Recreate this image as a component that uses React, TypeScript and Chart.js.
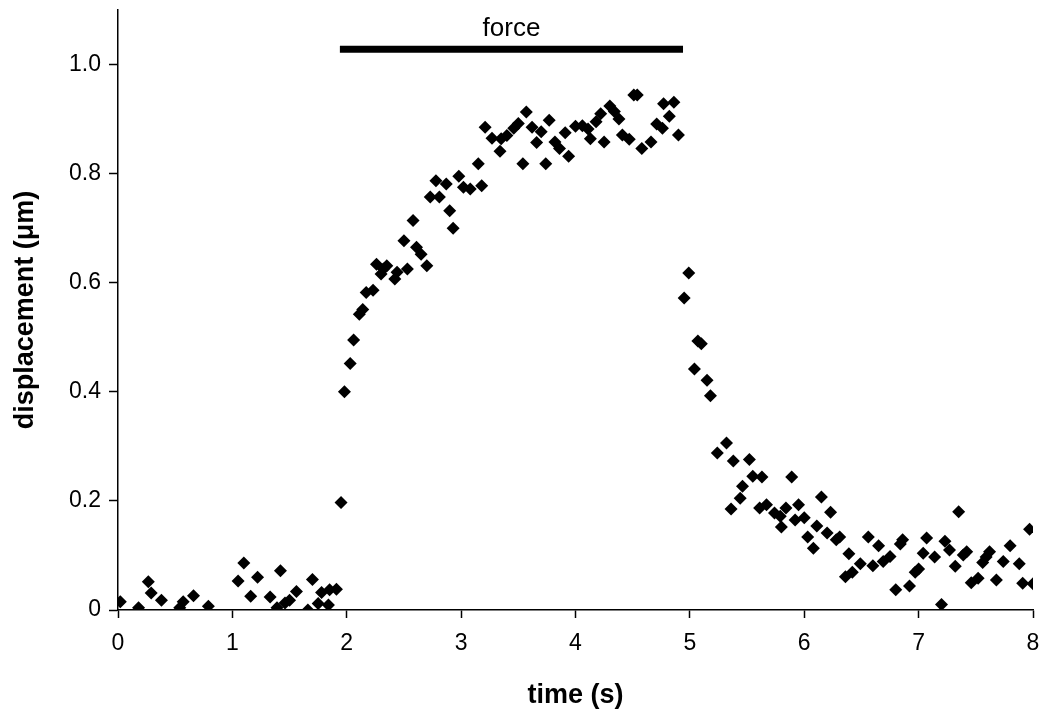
import React, { useEffect, useRef } from "react";
import { Chart, registerables } from "chart.js";

Chart.register(...registerables);

// ---- data ----
const baselineTime = [0.02, 0.18, 0.265, 0.29, 0.38, 0.54, 0.57, 0.66, 0.79, 1.05, 1.1, 1.16, 1.22, 1.33, 1.39, 1.42, 1.46, 1.5, 1.56, 1.66, 1.7, 1.75, 1.78, 1.84, 1.85, 1.91];
const baselineDisp = [0.015, 0.004, 0.052, 0.031, 0.018, 0.004, 0.015, 0.026, 0.007, 0.053, 0.086, 0.025, 0.06, 0.024, 0.004, 0.072, 0.013, 0.018, 0.034, 0.0, 0.056, 0.012, 0.032, 0.009, 0.037, 0.038];

const forceTime = [1.95, 1.98, 2.03, 2.06, 2.11, 2.14, 2.17, 2.23, 2.26, 2.3, 2.32, 2.35, 2.42, 2.44, 2.5, 2.53, 2.58, 2.61, 2.65, 2.7, 2.73, 2.78, 2.81, 2.87, 2.9, 2.93, 2.98, 3.02, 3.08, 3.15, 3.18, 3.21, 3.27, 3.34, 3.35, 3.4, 3.46, 3.5, 3.54, 3.57, 3.62, 3.66, 3.7, 3.74, 3.77, 3.82, 3.86, 3.91, 3.94, 4.0, 4.06, 4.11, 4.13, 4.18, 4.22, 4.25, 4.3, 4.34, 4.38, 4.41, 4.47, 4.51, 4.54, 4.58, 4.66, 4.71, 4.76, 4.77, 4.82, 4.86, 4.9];
const forceDisp = [0.197, 0.4, 0.452, 0.495, 0.542, 0.551, 0.582, 0.586, 0.634, 0.616, 0.625, 0.631, 0.607, 0.619, 0.677, 0.625, 0.714, 0.665, 0.652, 0.631, 0.757, 0.787, 0.757, 0.781, 0.732, 0.7, 0.795, 0.775, 0.772, 0.818, 0.778, 0.885, 0.865, 0.841, 0.864, 0.87, 0.883, 0.892, 0.818, 0.913, 0.885, 0.857, 0.877, 0.818, 0.898, 0.858, 0.846, 0.875, 0.832, 0.887, 0.888, 0.882, 0.864, 0.895, 0.91, 0.858, 0.924, 0.914, 0.9, 0.871, 0.863, 0.944, 0.944, 0.846, 0.858, 0.891, 0.883, 0.928, 0.905, 0.931, 0.871];

const recoveryTime = [4.95, 4.99, 5.04, 5.07, 5.1, 5.15, 5.18, 5.24, 5.32, 5.36, 5.38, 5.44, 5.46, 5.52, 5.55, 5.61, 5.63, 5.67, 5.74, 5.79, 5.8, 5.84, 5.89, 5.92, 5.95, 6.0, 6.03, 6.08, 6.11, 6.15, 6.2, 6.23, 6.28, 6.31, 6.36, 6.39, 6.42, 6.49, 6.56, 6.6, 6.65, 6.69, 6.75, 6.8, 6.84, 6.86, 6.92, 6.97, 7.0, 7.04, 7.07, 7.14, 7.2, 7.23, 7.27, 7.32, 7.35, 7.39, 7.42, 7.46, 7.52, 7.56, 7.59, 7.62, 7.68, 7.74, 7.8, 7.88, 7.91, 7.97, 8.0];
const recoveryDisp = [0.572, 0.618, 0.442, 0.493, 0.488, 0.421, 0.393, 0.288, 0.306, 0.185, 0.273, 0.205, 0.227, 0.276, 0.245, 0.187, 0.244, 0.193, 0.178, 0.172, 0.152, 0.187, 0.244, 0.165, 0.193, 0.169, 0.134, 0.113, 0.154, 0.207, 0.141, 0.179, 0.129, 0.134, 0.061, 0.103, 0.069, 0.085, 0.134, 0.081, 0.118, 0.089, 0.098, 0.037, 0.121, 0.129, 0.044, 0.069, 0.075, 0.104, 0.132, 0.097, 0.01, 0.126, 0.11, 0.08, 0.18, 0.101, 0.107, 0.05, 0.058, 0.087, 0.097, 0.107, 0.055, 0.089, 0.118, 0.085, 0.049, 0.148, 0.048];

const forceWindow = [1.94, 4.94];
const forceLevel = [1.028, 1.028];
const forceLabel = "force";

const xTickValues = [0, 1, 2, 3, 4, 5, 6, 7, 8];
const xTickLabels = ["0", "1", "2", "3", "4", "5", "6", "7", "8"];
const yTickValues = [0, 0.2, 0.4, 0.6, 0.8, 1.0];
const yTickLabels = ["0", "0.2", "0.4", "0.6", "0.8", "1.0"];

const xTitle = "time (s)";
const yTitle = "displacement (\u03BCm)";

const FONT = "'Liberation Sans', Arial, Helvetica, sans-serif";

export default function App() {
  const ref = useRef<HTMLCanvasElement>(null);

  useEffect(() => {
    if (!ref.current) return;
    const allTime = [...baselineTime, ...forceTime, ...recoveryTime];
    const allDisp = [...baselineDisp, ...forceDisp, ...recoveryDisp];

    const forceLabelPlugin = {
      id: "forceLabel",
      afterDatasetsDraw(chart: any) {
        const { ctx, scales } = chart;
        const x = scales.x;
        const y = scales.y;
        const cx = (x.getPixelForValue(forceWindow[0]) + x.getPixelForValue(forceWindow[1])) / 2;
        const cy = y.getPixelForValue(forceLevel[0]);
        ctx.save();
        ctx.font = `26px ${FONT}`;
        ctx.fillStyle = "#000";
        ctx.textAlign = "center";
        ctx.textBaseline = "alphabetic";
        ctx.fillText(forceLabel, cx, cy - 13);
        ctx.restore();
      },
    };

    const zeroPad = (s: any) => {
      s.paddingLeft = 0;
      s.paddingRight = 0;
      s.paddingTop = 0;
      s.paddingBottom = 0;
    };

    const chart = new Chart(ref.current, {
      type: "scatter",
      data: {
        datasets: [
          {
            data: allTime.map((t, i) => ({ x: t, y: allDisp[i] })),
            pointStyle: "rectRot",
            pointRadius: 6.5,
            pointHoverRadius: 6.5,
            backgroundColor: "#000",
            borderColor: "#000",
            borderWidth: 0,
          },
          {
            type: "line",
            data: forceWindow.map((t, i) => ({ x: t, y: forceLevel[i] })),
            borderColor: "#000",
            backgroundColor: "#000",
            borderWidth: 7,
            borderCapStyle: "butt",
            pointRadius: 0,
            showLine: true,
            fill: false,
          } as any,
        ],
      },
      options: {
        animation: false,
        responsive: false,
        events: [],
        layout: { padding: { top: 10, right: 11, left: 0, bottom: 0 } },
        plugins: { legend: { display: false }, tooltip: { enabled: false } },
        scales: {
          x: {
            type: "linear",
            min: 0,
            max: 8,
            afterBuildTicks: (s: any) => {
              s.ticks = xTickValues.map((v) => ({ value: v }));
            },
            afterFit: (s: any) => {
              s.height = 103;
              zeroPad(s);
            },
            ticks: {
              callback: (_v: any, i: number) => xTickLabels[i],
              font: { size: 23, family: FONT },
              color: "#000",
              padding: 12,
              maxRotation: 0,
              autoSkip: false,
            },
            grid: {
              display: true,
              drawOnChartArea: false,
              drawTicks: true,
              tickLength: 8,
              tickColor: "#000",
              tickWidth: 1.5,
              color: "#000",
            },
            border: { display: true, color: "#000", width: 1.5 },
            title: {
              display: true,
              text: xTitle,
              color: "#000",
              font: { size: 27, weight: "bold", family: FONT },
              padding: { top: 0, bottom: 1 },
            },
          },
          y: {
            type: "linear",
            min: 0,
            max: 1.1,
            afterBuildTicks: (s: any) => {
              s.ticks = yTickValues.map((v) => ({ value: v }));
            },
            afterFit: (s: any) => {
              s.width = 118;
              zeroPad(s);
            },
            ticks: {
              callback: (_v: any, i: number) => yTickLabels[i],
              font: { size: 23, family: FONT },
              color: "#000",
              padding: 8,
              autoSkip: false,
            },
            grid: {
              display: true,
              drawOnChartArea: false,
              drawTicks: true,
              tickLength: 9,
              tickColor: "#000",
              tickWidth: 1.5,
              color: "#000",
            },
            border: { display: true, color: "#000", width: 1.5 },
            title: {
              display: true,
              text: yTitle,
              color: "#000",
              font: { size: 27, weight: "bold", family: FONT },
              padding: { top: 9, bottom: 0 },
            },
          },
        },
      },
      plugins: [forceLabelPlugin],
    } as any);

    return () => chart.destroy();
  }, []);

  return (
    <div style={{ position: "absolute", left: 0, top: 0, width: 1044, height: 713, background: "#fff" }}>
      <canvas ref={ref} width={1044} height={713} style={{ display: "block" }} />
    </div>
  );
}
